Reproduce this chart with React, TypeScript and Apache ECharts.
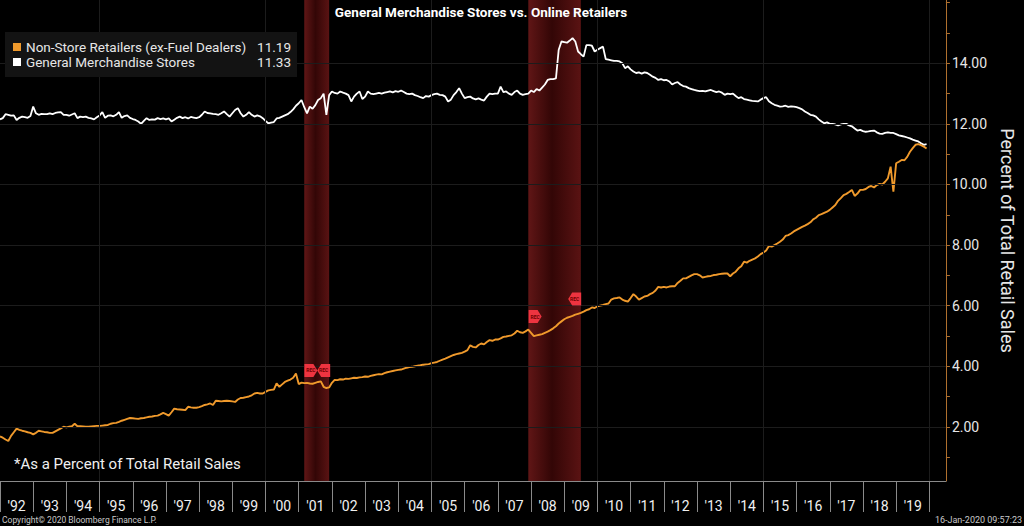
import React, { useEffect, useRef } from "react";
import * as echarts from "echarts";

const START_YEAR = 1992;

// Monthly values, Jan 1992 – Dec 2019 (one row per year)
const nonStoreRetailers: number[] = [
  1.68, 1.64, 1.58, 1.53, 1.70, 1.82, 1.94, 1.90, 1.87, 1.85, 1.82, 1.80,
  1.75, 1.80, 1.87, 1.85, 1.83, 1.82, 1.80, 1.80, 1.85, 1.90, 1.95, 2.00,
  1.98, 2.00, 2.02, 2.10, 2.02, 2.02, 2.01, 2.00, 2.00, 2.01, 2.02, 2.03,
  2.03, 2.04, 2.05, 2.06, 2.10, 2.12, 2.13, 2.16, 2.20, 2.23, 2.26, 2.29,
  2.28, 2.27, 2.26, 2.28, 2.29, 2.31, 2.33, 2.34, 2.36, 2.37, 2.41, 2.46,
  2.42, 2.37, 2.48, 2.60, 2.58, 2.57, 2.56, 2.55, 2.66, 2.64, 2.63, 2.63,
  2.65, 2.68, 2.72, 2.74, 2.77, 2.72, 2.86, 2.85, 2.84, 2.85, 2.86, 2.85,
  2.84, 2.82, 2.90, 2.95, 2.96, 2.98, 3.00, 3.04, 3.10, 3.12, 3.10, 3.10,
  3.15, 3.20, 3.22, 3.23, 3.43, 3.32, 3.40, 3.48, 3.52, 3.56, 3.62, 3.76,
  3.41, 3.46, 3.44, 3.45, 3.43, 3.42, 3.45, 3.48, 3.50, 3.32, 3.28, 3.30,
  3.45, 3.55, 3.54, 3.57, 3.56, 3.59, 3.58, 3.60, 3.62, 3.61, 3.63, 3.64,
  3.66, 3.65, 3.68, 3.70, 3.72, 3.74, 3.73, 3.77, 3.80, 3.82, 3.84, 3.86,
  3.88, 3.89, 3.92, 3.95, 3.97, 3.98, 4.00, 4.02, 4.03, 4.05, 4.06, 4.07,
  4.10, 4.12, 4.14, 4.18, 4.22, 4.25, 4.29, 4.33, 4.37, 4.40, 4.42, 4.44,
  4.48, 4.53, 4.69, 4.64, 4.62, 4.70, 4.75, 4.72, 4.80, 4.86, 4.84, 4.88,
  4.88, 4.92, 4.97, 4.98, 5.00, 5.02, 5.08, 5.17, 5.12, 5.10, 5.15, 5.21,
  5.10, 4.99, 5.02, 5.04, 5.06, 5.10, 5.14, 5.19, 5.25, 5.32, 5.41, 5.48,
  5.55, 5.60, 5.63, 5.66, 5.70, 5.73, 5.76, 5.80, 5.85, 5.88, 5.94, 5.92,
  5.98, 6.00, 6.02, 6.05, 6.07, 6.20, 6.24, 6.25, 6.27, 6.20, 6.16, 6.13,
  6.25, 6.38, 6.30, 6.20, 6.25, 6.30, 6.32, 6.38, 6.42, 6.50, 6.62, 6.60,
  6.62, 6.60, 6.63, 6.64, 6.64, 6.75, 6.82, 6.90, 6.90, 6.95, 7.00, 7.04,
  7.04, 7.00, 6.93, 6.95, 6.97, 6.98, 7.01, 7.02, 7.04, 7.05, 7.06, 7.06,
  6.97, 7.06, 7.12, 7.23, 7.30, 7.45, 7.42, 7.48, 7.52, 7.56, 7.62, 7.70,
  7.75, 7.82, 7.97, 7.95, 8.00, 8.05, 8.11, 8.18, 8.30, 8.33, 8.38, 8.45,
  8.50, 8.55, 8.60, 8.64, 8.69, 8.75, 8.85, 8.90, 8.99, 9.02, 9.06, 9.10,
  9.16, 9.24, 9.32, 9.46, 9.55, 9.65, 9.69, 9.75, 9.82, 9.62, 9.70, 9.82,
  9.82, 9.85, 9.92, 9.95, 9.90, 9.98, 10.02, 10.00, 10.09, 10.20, 10.59, 9.76,
  10.70, 10.75, 10.81, 10.80, 10.91, 11.08, 11.20, 11.31, 11.33, 11.30, 11.25, 11.19,
];

const generalMerchandise: number[] = [
  12.15, 12.19, 12.32, 12.30, 12.27, 12.28, 12.13, 12.20, 12.24, 12.22, 12.20, 12.26,
  12.57, 12.35, 12.30, 12.33, 12.32, 12.32, 12.35, 12.32, 12.36, 12.38, 12.39, 12.30,
  12.30, 12.27, 12.31, 12.35, 12.19, 12.24, 12.22, 12.24, 12.20, 12.18, 12.15, 12.22,
  12.28, 12.39, 12.20, 12.27, 12.28, 12.25, 12.30, 12.39, 12.20, 12.26, 12.28, 12.20,
  12.16, 12.13, 12.08, 12.00, 12.10, 12.19, 12.13, 12.15, 12.14, 12.19, 12.16, 12.18,
  12.15, 12.18, 12.08, 12.14, 12.20, 12.24, 12.19, 12.22, 12.18, 12.23, 12.21, 12.19,
  12.22, 12.30, 12.41, 12.36, 12.35, 12.33, 12.32, 12.30, 12.35, 12.41, 12.32, 12.24,
  12.35, 12.46, 12.52, 12.35, 12.24, 12.30, 12.39, 12.30, 12.24, 12.28, 12.25, 12.19,
  12.10, 12.02, 12.04, 12.06, 12.18, 12.20, 12.24, 12.28, 12.32, 12.39, 12.48, 12.60,
  12.68, 12.79, 12.55, 12.35, 12.57, 12.50, 12.62, 12.79, 12.85, 13.00, 12.30, 12.95,
  13.07, 13.02, 13.00, 13.07, 13.03, 13.00, 12.95, 12.74, 12.90, 13.00, 13.07, 12.82,
  12.90, 13.07, 13.00, 12.98, 13.00, 13.02, 13.00, 13.03, 13.05, 13.07, 13.04, 13.08,
  13.06, 13.10, 13.05, 13.00, 12.98, 13.00, 12.95, 12.92, 12.88, 12.85, 12.92, 12.90,
  12.95, 12.98, 13.00, 12.96, 12.95, 12.90, 12.74, 12.80, 12.95, 13.05, 13.18, 13.00,
  12.85, 12.88, 12.90, 12.84, 12.81, 12.84, 12.80, 12.77, 12.90, 13.00, 12.98, 13.00,
  13.00, 13.23, 13.05, 13.07, 13.00, 12.96, 13.05, 13.10, 13.00, 12.96, 12.98, 13.00,
  13.10, 13.05, 13.15, 13.10, 13.20, 13.30, 13.45, 13.48, 13.48, 13.50, 14.45, 14.72,
  14.70, 14.68, 14.75, 14.83, 14.72, 14.39, 14.30, 14.22, 14.60, 14.60, 14.58, 14.39,
  14.45, 14.50, 14.55, 14.14, 14.12, 14.10, 14.08, 14.08, 14.06, 14.00, 13.84, 13.90,
  13.80, 13.73, 13.68, 13.70, 13.66, 13.70, 13.68, 13.62, 13.56, 13.52, 13.45, 13.48,
  13.44, 13.45, 13.40, 13.30, 13.35, 13.38, 13.30, 13.25, 13.23, 13.18, 13.15, 13.12,
  13.10, 13.08, 13.09, 13.07, 13.10, 13.12, 13.08, 13.05, 13.07, 13.03, 12.96, 13.00,
  12.98, 13.00, 12.92, 12.85, 12.88, 12.82, 12.80, 12.78, 12.76, 12.75, 12.74, 12.80,
  12.85, 12.88, 12.75, 12.68, 12.63, 12.60, 12.57, 12.58, 12.60, 12.56, 12.58, 12.57,
  12.55, 12.52, 12.48, 12.41, 12.36, 12.30, 12.28, 12.24, 12.15, 12.08, 12.02, 12.05,
  12.00, 12.00, 11.98, 11.95, 11.98, 12.00, 12.00, 11.95, 11.92, 11.85, 11.78, 11.80,
  11.76, 11.74, 11.75, 11.77, 11.78, 11.72, 11.68, 11.67, 11.70, 11.72, 11.70, 11.70,
  11.66, 11.62, 11.60, 11.58, 11.55, 11.52, 11.48, 11.45, 11.42, 11.36, 11.31, 11.33,
];

const seriesNames = ["Non-Store Retailers (ex-Fuel Dealers)", "General Merchandise Stores"];
const labelYears = [
  1992, 1993, 1994, 1995, 1996, 1997, 1998, 1999, 2000, 2001, 2002, 2003, 2004, 2005,
  2006, 2007, 2008, 2009, 2010, 2011, 2012, 2013, 2014, 2015, 2016, 2017, 2018, 2019,
];
const yearBoundaries = [...labelYears, 2020];
const yTickLabelValues = [2, 4, 6, 8, 10, 12, 14];
const yTickValues = [1, 2, 3, 4, 5, 6, 7, 8, 9, 10, 11, 12, 13, 14, 15, 16];
const verticalGridYears = [1995, 2000, 2005, 2010, 2015, 2020];
const recessions: [number, number][] = [
  [2001.167, 2001.917],
  [2007.917, 2009.5],
];
const recessionMarkers = [
  { x: 2001.367, y: 3.86, side: "start" },
  { x: 2001.753, y: 3.86, side: "end" },
  { x: 2008.122, y: 5.64, side: "start" },
  { x: 2009.315, y: 6.22, side: "end" },
];

const FONT = "Roboto";
const ORANGE = "#f09a2c";
const WHITE = "#ffffff";

const toPoints = (vals: number[]) => vals.map((v, i) => [START_YEAR + i / 12, v]);

export default function App() {
  const ref = useRef<HTMLDivElement>(null);

  useEffect(() => {
    if (!ref.current) return;
    document.body.style.margin = "0";
    const chart = echarts.init(ref.current, undefined, { renderer: "svg" });
    const lastValues: Record<string, number> = {
      [seriesNames[0]]: nonStoreRetailers[nonStoreRetailers.length - 1],
      [seriesNames[1]]: generalMerchandise[generalMerchandise.length - 1],
    };
    const bandColor = {
      type: "linear",
      x: 0,
      y: 0,
      x2: 1,
      y2: 0,
      colorStops: [
        { offset: 0, color: "#601616" },
        { offset: 0.45, color: "#330606" },
        { offset: 1, color: "#5a1313" },
      ],
    };
    const startPath = "path://M0,0 L9,0 L13,6.5 L9,13 L0,13 Z";
    const endPath = "path://M4,0 L13,0 L13,13 L4,13 L0,6.5 Z";

    chart.setOption({
      animation: false,
      backgroundColor: "#000000",
      textStyle: { fontFamily: FONT },
      grid: { left: 0, right: 64, top: 0, bottom: 45, containLabel: false },
      legend: {
        orient: "vertical",
        left: 5,
        top: 32,
        z: 20,
        padding: [8, 6, 8, 8],
        itemGap: 1,
        itemWidth: 8,
        itemHeight: 8,
        icon: "rect",
        selectedMode: false,
        backgroundColor: "#131313",
        data: seriesNames.map((n) => ({ name: n, icon: "rect" })),
        formatter: (name: string) => `{n|${name}}{v|${lastValues[name].toFixed(2)}}`,
        textStyle: {
          color: "#e6e6e6",
          fontSize: 13.5,
          fontFamily: FONT,
          lineHeight: 14,
          rich: {
            n: { width: 233, color: "#e6e6e6", fontSize: 13.5, fontFamily: FONT },
            v: { width: 32, align: "right", color: "#e6e6e6", fontSize: 13.5, fontFamily: FONT },
          },
        },
      },
      xAxis: {
        type: "value",
        min: 1992,
        max: 2020.5,
        axisLine: { show: true, lineStyle: { color: "#8a8a8a", width: 1 } },
        axisTick: {
          show: true,
          customValues: yearBoundaries,
          length: 31,
          lineStyle: { color: "#8a8a8a", width: 1 },
        },
        axisLabel: {
          customValues: labelYears.map((y) => y + 0.5),
          formatter: (v: number) => "'" + String(Math.floor(v)).slice(2),
          color: "#f0f0f0",
          fontSize: 14,
          fontFamily: FONT,
          margin: 18,
        },
        splitLine: { show: false },
      },
      yAxis: {
        type: "value",
        position: "right",
        min: 0.21,
        max: 16.09,
        name: "Percent of Total Retail Sales",
        nameLocation: "middle",
        nameRotate: -90,
        nameGap: 47,
        nameTextStyle: { color: "#e6e6e6", fontSize: 18, fontFamily: FONT },
        axisLine: { show: true, lineStyle: { color: "#b0702e", width: 1 } },
        axisTick: {
          show: true,
          customValues: yTickValues,
          length: 4,
          lineStyle: { color: "#b0702e" },
        },
        axisLabel: {
          customValues: yTickLabelValues,
          formatter: (v: number) => v.toFixed(2),
          color: "#e6e6e6",
          fontSize: 14,
          fontFamily: FONT,
          margin: 6,
        },
        splitLine: { show: false },
      },
      series: [
        {
          name: "bands",
          type: "line",
          data: [],
          z: 1,
          silent: true,
          showSymbol: false,
          markArea: {
            silent: true,
            itemStyle: { color: bandColor },
            data: recessions.map(([a, b]) => [{ xAxis: a }, { xAxis: b }]),
          },
          markLine: {
            silent: true,
            symbol: ["none", "none"],
            label: { show: false },
            lineStyle: { color: "#1c1c1c", width: 1, type: "solid", opacity: 1 },
            data: [
              ...verticalGridYears.map((y) => ({ xAxis: y })),
              ...yTickLabelValues.map((v) => ({ yAxis: v })),
            ],
          },
        },
        {
          name: seriesNames[1],
          type: "line",
          data: toPoints(generalMerchandise),
          showSymbol: false,
          symbol: "none",
          z: 3,
          itemStyle: { color: WHITE },
          lineStyle: { color: WHITE, width: 1.8 },
          emphasis: { disabled: true },
        },
        {
          name: seriesNames[0],
          type: "line",
          data: toPoints(nonStoreRetailers),
          showSymbol: false,
          symbol: "none",
          z: 4,
          itemStyle: { color: ORANGE },
          lineStyle: { color: ORANGE, width: 1.9 },
          emphasis: { disabled: true },
          markPoint: {
            silent: true,
            itemStyle: { color: "#ee3440" },
            label: {
              show: true,
              formatter: "REC",
              fontSize: 5,
              fontWeight: "bold",
              color: "#700000",
            },
            data: recessionMarkers.map((m) => ({
              coord: [m.x, m.y],
              symbol: m.side === "start" ? startPath : endPath,
              symbolSize: [13, 13],
            })),
          },
        },
      ],
      graphic: [
        {
          type: "text",
          x: 481,
          y: 12,
          z: 50,
          style: {
            text: "General Merchandise Stores vs. Online Retailers",
            fill: "#ffffff",
            font: `bold 13.5px ${FONT}`,
            textAlign: "center",
            textVerticalAlign: "middle",
            align: "center",
            verticalAlign: "middle",
          },
        },
        {
          type: "text",
          left: 14,
          top: 456,
          z: 50,
          style: {
            text: "*As a Percent of Total Retail Sales",
            fill: "#f0f0f0",
            font: `15px ${FONT}`,
          },
        },
        {
          type: "text",
          left: 2,
          top: 515,
          z: 50,
          style: {
            text: "Copyright\u00a9 2020 Bloomberg Finance L.P.",
            fill: "#c8c8c8",
            font: `8.5px ${FONT}`,
          },
        },
        {
          type: "text",
          right: 2,
          top: 515,
          z: 50,
          style: {
            text: "16-Jan-2020 09:57:23",
            fill: "#c8c8c8",
            font: `9px ${FONT}`,
          },
        },
      ],
    });

    return () => chart.dispose();
  }, []);

  return (
    <div
      ref={ref}
      style={{ position: "absolute", left: 0, top: 0, width: 1024, height: 526, background: "#000" }}
    />
  );
}
